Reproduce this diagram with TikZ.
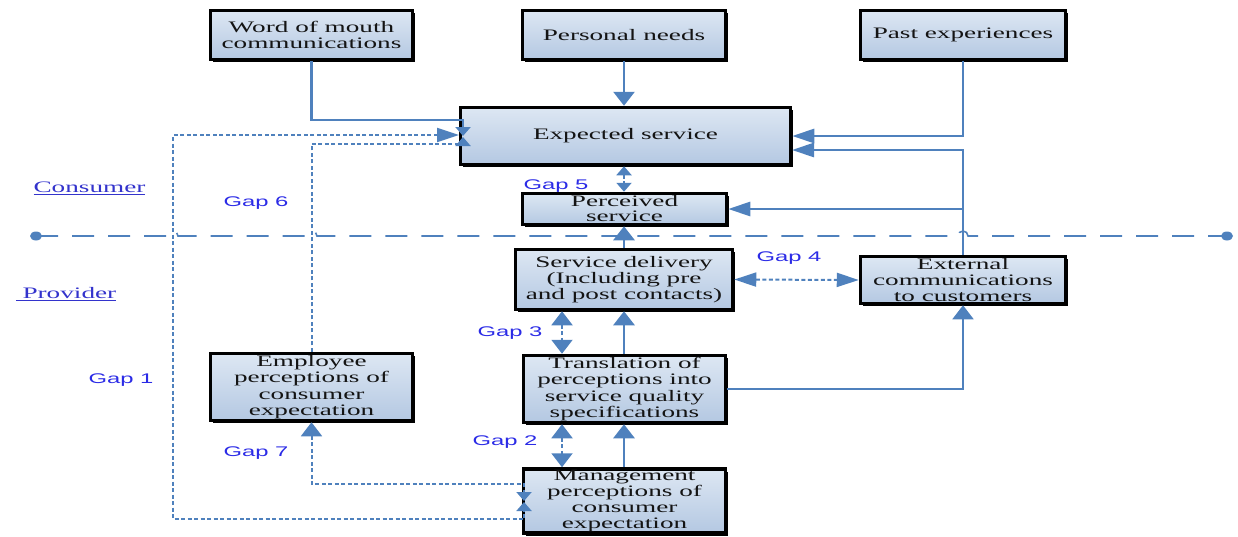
\documentclass[tikz,border=0pt]{standalone}
\usepackage{fontspec}
\setmainfont{Liberation Serif}[FakeStretch=1.7]
\newfontfamily\gapfont{Liberation Sans}[FakeStretch=1.7]
\usetikzlibrary{arrows.meta,shadows,calc}
\definecolor{lineblue}{HTML}{4F81BD}
\definecolor{gapblue}{HTML}{2B2BE6}
\definecolor{sideblue}{HTML}{3333CC}
\definecolor{boxA}{HTML}{DDE7F3}
\definecolor{boxB}{HTML}{B4C8E2}
\definecolor{boxtext}{HTML}{141414}
\tikzset{
  box/.style={draw=black, line width=3.5pt, top color=boxA, bottom color=boxB,
    align=center, inner sep=0pt, text=boxtext,
    font=\fontsize{16}{16.3}\selectfont,
    drop shadow={shadow xshift=2.5pt, shadow yshift=-2.5pt, fill=black, opacity=1}},
  sz/.style 2 args={minimum width=#1pt, minimum height=#2pt},
  conn/.style={draw=lineblue, line width=2.8pt},
  thinconn/.style={draw=lineblue, line width=1.8pt},
  gapline/.style={draw=lineblue, line width=2pt, dash pattern=on 4pt off 2.5pt},
  sepline/.style={draw=lineblue, line width=1.6pt, dash pattern=on 22pt off 14pt},
  vtip/.tip={Triangle[length=14pt,width=21pt]},
  htip/.tip={Triangle[length=22pt,width=14pt]},
  stip/.tip={Triangle[length=9pt,width=15pt]},
  gaplab/.style={text=gapblue, font=\gapfont\fontsize{14}{14}\selectfont, inner sep=0pt},
  sidelab/.style={text=sideblue, font=\fontsize{16}{16}\selectfont, inner sep=0pt},
}
\begin{document}
\begin{tikzpicture}[x=1pt,y=-1pt]
\useasboundingbox (0,0) rectangle (1238,536);

% separator line
\coordinate (sepL) at (36,236);
\coordinate (sepR) at (1227,236);
\draw[sepline] (sepL) -- (168,236) arc (180:360:5) -- (307,236) arc (180:360:5)
  -- (958,236) arc (180:360:5) -- (sepR);
\fill[lineblue] (sepL) ellipse (6 and 4.5);
\fill[lineblue] (sepR) ellipse (6 and 4.5);

% boxes
\node[box, sz={202}{49}] (wom) at (311.5,35) {Word of mouth\\communications};
\node[box, sz={203}{49}] (pn) at (624,35) {Personal needs};
\node[box, sz={205}{49}] (past) at (963,35) {Past experiences};
\node[box, sz={330}{57}] (exp) at (625.5,136) {Expected service};
\node[box, sz={204}{31}, font=\fontsize{16}{15}\selectfont] (perc) at (624.5,209) {Perceived\\service};
\node[box, sz={217}{60}] (deliv) at (624,279.5) {Service delivery\\(Including pre\\and post contacts)};
\node[box, sz={205}{47}] (ext) at (963,280) {External\\communications\\to customers};
\node[box, sz={202}{67}] (trans) at (624.5,389) {Translation of\\perceptions into\\service quality\\specifications};
\node[box, sz={202}{67}] (emp) at (311.5,387) {Employee\\perceptions of\\consumer\\expectation};
\node[box, sz={202}{64}] (mgmt) at (624.5,501) {Management\\perceptions of\\consumer\\expectation};

% labels
\node[sidelab] (consumer) at (89.5,188) {\underline{Consumer}};
\node[sidelab] (provider) at (66,294) {\underline{\ Provider}};
\node[gaplab] (g5) at (556,186) {Gap 5};
\node[gaplab] (g6) at (256,203) {Gap 6};
\node[gaplab] (g4) at (789,258) {Gap 4};
\node[gaplab] (g3) at (510,333) {Gap 3};
\node[gaplab] (g2) at (505,442) {Gap 2};
\node[gaplab] (g1) at (121,380) {Gap 1};
\node[gaplab] (g7) at (256,453) {Gap 7};

% helper coordinates
\coordinate (hgTop) at (463,120);
\coordinate (hgMid) at (463,136);
\coordinate (hgBot) at (463,144);
\coordinate (g1In) at (459,135);
\coordinate (mgTop) at (524,484);
\coordinate (mgMid) at (524,501);
\coordinate (mgBot) at (524,519);
\coordinate (expR2) at (792,150);
\coordinate (brPerc) at (963,209);
\coordinate (gx) at (562,0);

% solid connectors
\draw[conn, -{stip}] (wom.south) |- (hgTop) -- (hgMid);
\draw[conn, -{vtip}] (pn.south) -- (pn.south |- exp.north);
\draw[conn, -{htip}] (past.south) |- (exp.east);
\draw[conn, -{htip}] (ext.north) |- (expR2);
\draw[conn, -{htip}] (brPerc) -- (perc.east);
\draw[conn, -{vtip}] (deliv.north) -- (deliv.north |- perc.south);
\draw[conn, -{vtip}] (trans.north -| deliv.north) -- (deliv.south);
\draw[conn, -{vtip}] (mgmt.north -| deliv.north) -- (deliv.north |- trans.south);
\draw[thinconn, -{vtip}] (trans.east) -| (ext.south);

% gap connectors
\draw[gapline, {stip}-{stip}] (exp.south -| deliv.north) -- (perc.north -| deliv.north);
\draw[gapline, {htip}-{htip}] (deliv.east) -- (ext.west);
\draw[gapline, {vtip}-{vtip}] (deliv.south -| gx) -- (trans.north -| gx);
\draw[gapline, {vtip}-{vtip}] (trans.south -| gx) -- (mgmt.north -| gx);
\draw[gapline, -{stip}] (emp.north) |- (hgBot) -- ([yshift=-1pt]hgMid);
\draw[gapline, {htip}-{stip}] (g1In) -- (173,135) -- (173,519) -- (mgBot) -- ([yshift=-1pt]mgMid);
\draw[gapline, {vtip}-{stip}] (emp.south) |- (mgTop) -- (mgMid);
\end{tikzpicture}
\end{document}
